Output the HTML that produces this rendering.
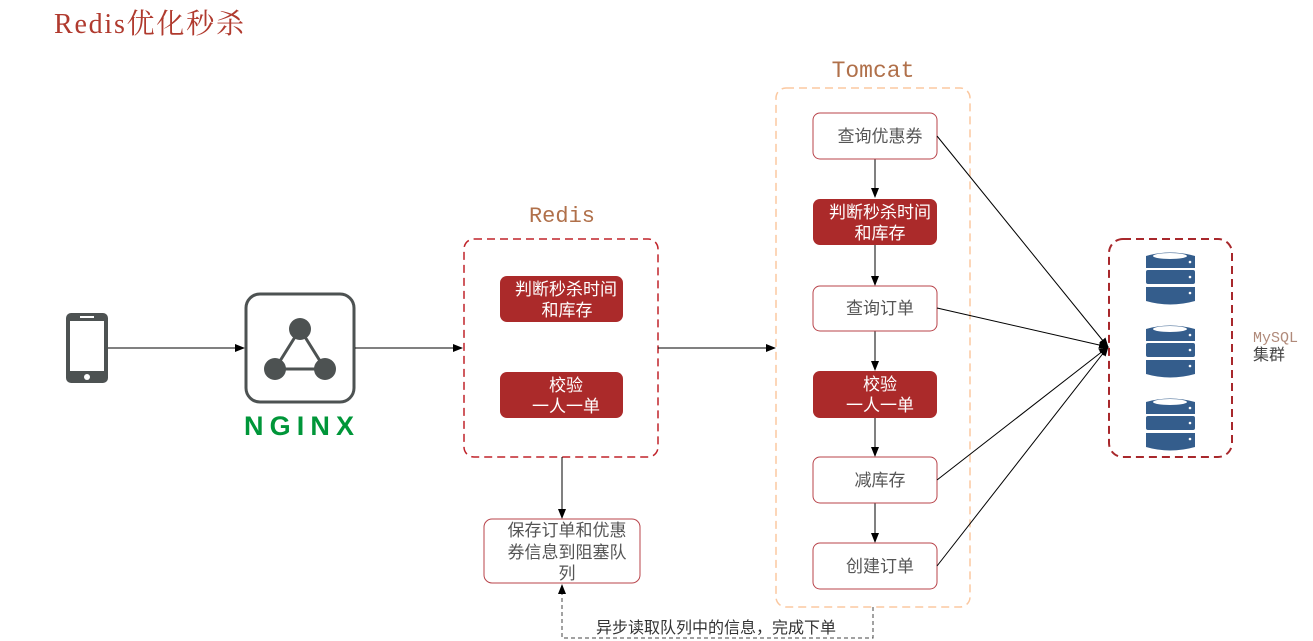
<!DOCTYPE html>
<html><head><meta charset="utf-8"><style>
html,body{margin:0;padding:0;background:#fff;}
svg{display:block;}
text{font-family:"Liberation Sans","Noto Sans CJK SC",sans-serif;}
</style></head><body>
<svg width="1313" height="641" viewBox="0 0 1313 641" xmlns="http://www.w3.org/2000/svg">
<defs>
<marker id="a" markerWidth="10" markerHeight="10" refX="9" refY="5" orient="auto" markerUnits="userSpaceOnUse"><path d="M0,1 L10,5 L0,9 Z" fill="#000"/></marker>
</defs>
<text x="54" y="33" font-size="28" fill="#b03a2e" textLength="190" style="font-family:'Liberation Serif','Noto Serif CJK SC',serif">Redis优化秒杀</text>

<!-- phone -->
<rect x="66" y="313" width="42" height="70" rx="5" fill="#4d5252"/>
<rect x="70" y="321" width="34" height="50" fill="#fff"/>
<rect x="80" y="316" width="14" height="2" fill="#fff"/>
<circle cx="87" cy="377" r="3" fill="#fff"/>
<line x1="108" y1="348" x2="244" y2="348" stroke="#000" marker-end="url(#a)"/>

<!-- nginx -->
<rect x="246" y="294" width="108" height="108" rx="14" fill="#fff" stroke="#4d5252" stroke-width="3"/>
<polygon points="300,329 275,369 325,369" fill="none" stroke="#4d5252" stroke-width="3"/>
<circle cx="300" cy="329" r="11" fill="#4d5252"/>
<circle cx="275" cy="369" r="11" fill="#4d5252"/>
<circle cx="325" cy="369" r="11" fill="#4d5252"/>
<text x="299" y="435" font-size="27" font-weight="bold" fill="#009639" text-anchor="middle" textLength="110">NGINX</text>
<line x1="355" y1="348" x2="462" y2="348" stroke="#000" marker-end="url(#a)"/>

<!-- redis -->
<text x="562" y="222" font-size="22" fill="#b0704a" text-anchor="middle" style="font-family:'Liberation Mono',monospace">Redis</text>
<rect x="464" y="239" width="194" height="218" rx="10" fill="none" stroke="#c0232a" stroke-width="1.5" stroke-dasharray="8,5"/>
<rect x="500" y="276" width="123" height="46" rx="7" fill="#ab2a2a"/>
<text x="566" y="295" font-size="17" fill="#fff" text-anchor="middle">判断秒杀时间</text>
<text x="567" y="316" font-size="17" fill="#fff" text-anchor="middle">和库存</text>
<rect x="500" y="372" width="123" height="46" rx="7" fill="#ab2a2a"/>
<text x="566" y="391" font-size="17" fill="#fff" text-anchor="middle">校验</text>
<text x="566" y="412" font-size="17" fill="#fff" text-anchor="middle">一人一单</text>
<line x1="658" y1="348" x2="775" y2="348" stroke="#000" marker-end="url(#a)"/>
<line x1="562" y1="457" x2="562" y2="518" stroke="#000" marker-end="url(#a)"/>
<rect x="484" y="519" width="156" height="64" rx="8" fill="#fff" stroke="#b8434a"/>
<text x="567" y="536" font-size="17" fill="#555" text-anchor="middle">保存订单和优惠</text>
<text x="567" y="558" font-size="17" fill="#555" text-anchor="middle">券信息到阻塞队</text>
<text x="567" y="579" font-size="17" fill="#555" text-anchor="middle">列</text>
<polyline points="873,607 873,638 562,638 562,585" fill="none" stroke="#444" stroke-dasharray="4,3" marker-end="url(#a)"/>
<text x="716" y="633" font-size="16" fill="#333" text-anchor="middle">异步读取队列中的信息，完成下单</text>

<!-- tomcat -->
<text x="873" y="77" font-size="23" fill="#b0704a" text-anchor="middle" style="font-family:'Liberation Mono',monospace">Tomcat</text>
<rect x="776" y="88" width="194" height="519" rx="10" fill="none" stroke="#fbc8a0" stroke-width="1.5" stroke-dasharray="8,5"/>
<g stroke="#000">
<line x1="875" y1="159" x2="875" y2="197" marker-end="url(#a)"/>
<line x1="875" y1="245" x2="875" y2="285" marker-end="url(#a)"/>
<line x1="875" y1="331" x2="875" y2="370" marker-end="url(#a)"/>
<line x1="875" y1="418" x2="875" y2="456" marker-end="url(#a)"/>
<line x1="875" y1="503" x2="875" y2="542" marker-end="url(#a)"/>
</g>
<rect x="813" y="113" width="124" height="46" rx="7" fill="#fff" stroke="#b8434a"/>
<text x="880" y="142" font-size="17" fill="#555" text-anchor="middle">查询优惠券</text>
<rect x="813" y="199" width="124" height="46" rx="7" fill="#ab2a2a"/>
<text x="880" y="218" font-size="17" fill="#fff" text-anchor="middle">判断秒杀时间</text>
<text x="880" y="239" font-size="17" fill="#fff" text-anchor="middle">和库存</text>
<rect x="813" y="286" width="124" height="45" rx="7" fill="#fff" stroke="#b8434a"/>
<text x="880" y="314" font-size="17" fill="#555" text-anchor="middle">查询订单</text>
<rect x="813" y="371" width="124" height="47" rx="7" fill="#ab2a2a"/>
<text x="880" y="390" font-size="17" fill="#fff" text-anchor="middle">校验</text>
<text x="880" y="411" font-size="17" fill="#fff" text-anchor="middle">一人一单</text>
<rect x="813" y="457" width="124" height="46" rx="7" fill="#fff" stroke="#b8434a"/>
<text x="880" y="486" font-size="17" fill="#555" text-anchor="middle">减库存</text>
<rect x="813" y="543" width="124" height="46" rx="7" fill="#fff" stroke="#b8434a"/>
<text x="880" y="572" font-size="17" fill="#555" text-anchor="middle">创建订单</text>

<g stroke="#000">
<line x1="937" y1="136" x2="1108" y2="347" marker-end="url(#a)"/>
<line x1="937" y1="308" x2="1108" y2="347" marker-end="url(#a)"/>
<line x1="937" y1="480" x2="1108" y2="347" marker-end="url(#a)"/>
<line x1="937" y1="566" x2="1108" y2="347" marker-end="url(#a)"/>
</g>

<!-- mysql -->
<rect x="1109" y="239" width="123" height="218" rx="14" fill="none" stroke="#a8282c" stroke-width="2" stroke-dasharray="8,5"/>
<g id="db">
<path d="M1146,256 Q1170,249 1195,256 L1195,268 L1146,268 Z" fill="#345d8c"/>
<ellipse cx="1170" cy="256" rx="17" ry="3" fill="#fff"/>
<rect x="1146" y="270" width="49" height="14" rx="2" fill="#345d8c"/>
<path d="M1146,287 L1195,287 L1195,301 Q1170,308 1146,301 Z" fill="#345d8c"/>
<circle cx="1190" cy="262" r="1.3" fill="#fff"/><circle cx="1190" cy="277" r="1.3" fill="#fff"/><circle cx="1190" cy="293" r="1.3" fill="#fff"/>
</g>
<use href="#db" y="73"/>
<use href="#db" y="146"/>
<text x="1253" y="342" font-size="15" fill="#b08a7a" style="font-family:'Liberation Mono',monospace">MySQL</text>
<text x="1253" y="360" font-size="16" fill="#444">集群</text>
</svg>
</body></html>
